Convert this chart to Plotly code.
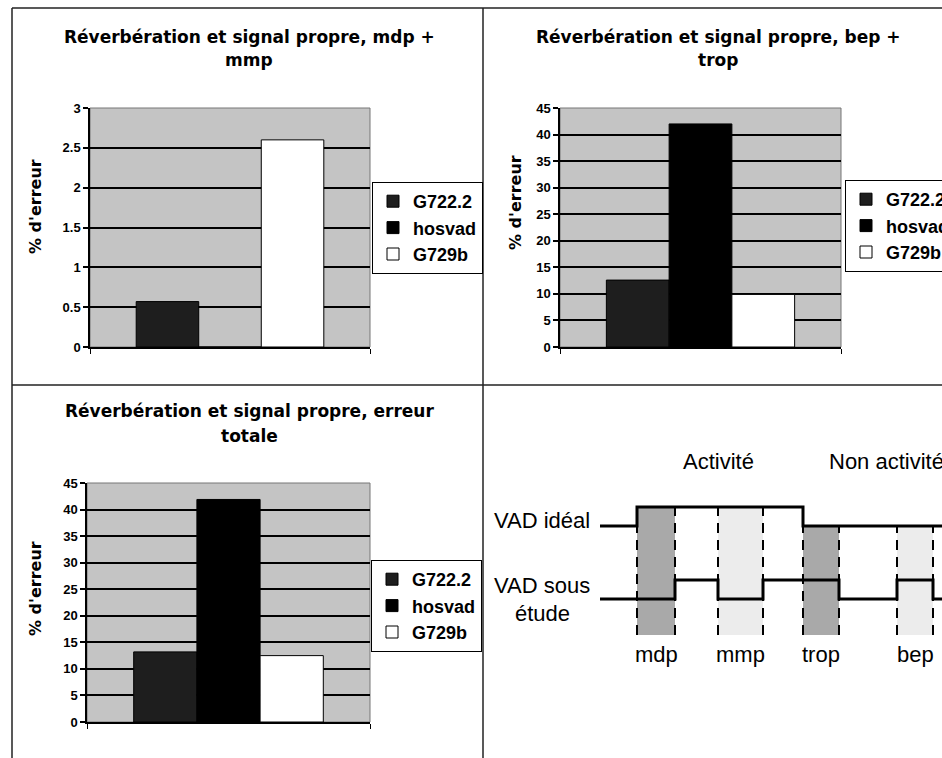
import plotly.graph_objects as go

W, H = 942, 758

# ---------------- data ----------------
series = ["G722.2", "hosvad", "G729b"]
category = ["Réverbération et signal propre"]
mdp_mmp = [0.57, 0.0, 2.6]
bep_trop = [12.6, 42.0, 9.9]
erreur_totale = [13.2, 41.9, 12.5]
panel_values = [mdp_mmp, bep_trop, erreur_totale]
panel_titles = [
    ["Réverbération et signal propre, mdp +", "mmp"],
    ["Réverbération et signal propre, bep +", "trop"],
    ["Réverbération et signal propre, erreur", "totale"],
]
y_max = [3, 45, 45]
y_step = [0.5, 5, 5]
y_title = "% d'erreur"

# VAD diagram (time in arbitrary units, states 0/1)
ideal_t = [0, 37, 203, 342]
ideal_state = [0, 1, 0, 0]
study_t = [0, 75, 118, 163, 239, 297, 333, 342]
study_state = [0, 1, 0, 1, 0, 1, 0, 0]
err_names = ["mdp", "mmp", "trop", "bep"]
err_start = [37, 118, 203, 297]
err_end = [75, 163, 239, 333]
err_dark = [True, False, True, False]

# ---------------- styling ----------------
bar_colors = ["#1e1e1e", "#000000", "#ffffff"]
plot_bg = "#c4c4c4"
TITLE_FONT = dict(family="DejaVu Sans", size=17, color="black", weight="bold")
TICK_FONT = dict(family="Liberation Sans, Arial", size=13, color="black", weight="bold")
LEG_FONT = dict(family="Liberation Sans, Arial", size=18, color="black", weight="bold")
DIAG_FONT = dict(family="Liberation Sans, Arial", size=22, color="black")


def px(x):
    return x / W


def py(y):
    return 1 - y / H


# plot areas in pixels: (left, right, top, bottom)
areas = [(90, 370, 108, 347), (560, 841, 108, 347), (87, 370, 483, 722)]
title_pos = [(249, 37, 60), (718, 37, 60), (249, 411, 436)]
ytitle_pos = [(35, 207), (515, 203), (35, 589)]
legend_pos = [(372, 182), (845, 180), (371, 560)]

fig = go.Figure()
layout = dict(
    width=W, height=H,
    margin=dict(l=0, r=0, t=0, b=0, autoexpand=False),
    paper_bgcolor="white",
    plot_bgcolor="white",
    showlegend=True,
    barmode="group",
    bargap=0.33,
    bargroupgap=0,
)
annotations = []
shapes = []

for i in range(3):
    n = "" if i == 0 else str(i + 1)
    xa, ya = "x" + n, "y" + n
    leg = "legend" + n
    vals = panel_values[i]
    for s, name in enumerate(series):
        fig.add_trace(go.Bar(
            x=category, y=[vals[s]], name=name,
            marker=dict(color=bar_colors[s], line=dict(color="black", width=1)),
            xaxis=xa, yaxis=ya, legend=leg, legendgroup=f"{i}-{s}",
        ))
    l, r, t, b = areas[i]
    layout["xaxis" + n] = dict(
        domain=[px(l), px(r)], anchor=ya, type="category",
        showticklabels=False, showline=True, linecolor="black", linewidth=1.5,
        ticks="outside", tickson="boundaries", ticklen=5, tickcolor="black",
        showgrid=False, fixedrange=True,
    )
    layout["yaxis" + n] = dict(
        domain=[py(b), py(t)], anchor=xa, range=[0, y_max[i]], dtick=y_step[i],
        showgrid=True, gridcolor="black", gridwidth=2, zeroline=False,
        showline=True, linecolor="black", linewidth=1.5,
        ticks="outside", ticklen=5, tickcolor="black", tickwidth=1.5,
        tickfont=TICK_FONT,
    )
    lx, ly = legend_pos[i]
    layout[leg] = dict(
        x=px(lx), y=py(ly), xanchor="left", yanchor="top",
        bgcolor="white", bordercolor="black", borderwidth=1,
        font=LEG_FONT, tracegroupgap=3, itemwidth=30, traceorder="normal",
    )
    cx, y1, y2 = title_pos[i]
    for txt, yy in zip(panel_titles[i], (y1, y2)):
        annotations.append(dict(
            x=px(cx), y=py(yy), xref="paper", yref="paper", text=txt,
            showarrow=False, font=TITLE_FONT, xanchor="center", yanchor="middle",
        ))
    tx, ty = ytitle_pos[i]
    annotations.append(dict(
        x=px(tx), y=py(ty), xref="paper", yref="paper", text=y_title,
        textangle=-90, showarrow=False, font=dict(TITLE_FONT, size=16),
        xanchor="center", yanchor="middle",
    ))
    # gray plot-area background with thin border (under the gridlines)
    shapes.append(dict(type="rect", xref=xa + " domain", yref=ya + " domain",
                       x0=0, x1=1, y0=0, y1=1, fillcolor=plot_bg,
                       line=dict(color="#777", width=1), layer="below"))

# ---------------- VAD diagram ----------------
IDEAL_BASE, STUDY_BASE, AMP, SHADE_BOTTOM = 232, 159, 19, 123
layout["xaxis4"] = dict(domain=[px(483), 1], anchor="y4", range=[-117, 342],
                        visible=False, fixedrange=True)
layout["yaxis4"] = dict(domain=[0, py(385)], anchor="x4", range=[0, 373],
                        visible=False, fixedrange=True)


def ideal_at(t):
    st = ideal_state[0]
    for tt, s in zip(ideal_t, ideal_state):
        if tt <= t:
            st = s
    return st


for name, a, b, dark in zip(err_names, err_start, err_end, err_dark):
    top = IDEAL_BASE + AMP * ideal_at((a + b) / 2)
    fig.add_trace(go.Scatter(
        x=[a, b, b, a, a], y=[SHADE_BOTTOM, SHADE_BOTTOM, top, top, SHADE_BOTTOM],
        fill="toself", fillcolor="#a9a9a9" if dark else "#ececec",
        line=dict(width=0), mode="lines", xaxis="x4", yaxis="y4",
        showlegend=False, hoverinfo="skip",
    ))
    for xx in (a, b):
        fig.add_trace(go.Scatter(
            x=[xx, xx], y=[SHADE_BOTTOM, top], mode="lines",
            line=dict(color="black", width=2, dash="10px,7px"),
            xaxis="x4", yaxis="y4", showlegend=False, hoverinfo="skip",
        ))
    annotations.append(dict(
        x=(a + b) / 2, y=SHADE_BOTTOM - 19, xref="x4", yref="y4", text=name,
        showarrow=False, font=DIAG_FONT, xanchor="center", yanchor="middle",
    ))

fig.add_trace(go.Scatter(
    x=ideal_t, y=[IDEAL_BASE + AMP * s for s in ideal_state], mode="lines",
    line=dict(color="black", width=3, shape="hv"),
    xaxis="x4", yaxis="y4", showlegend=False, hoverinfo="skip",
))
fig.add_trace(go.Scatter(
    x=study_t, y=[STUDY_BASE + AMP * s for s in study_state], mode="lines",
    line=dict(color="black", width=3, shape="hv"),
    xaxis="x4", yaxis="y4", showlegend=False, hoverinfo="skip",
))

for txt, x, y, anchor in [
    ("Activité", 718, 461, "center"),
    ("Non activité", 827, 461, "left"),
    ("VAD idéal", 542, 520, "center"),
    ("VAD sous", 542, 585, "center"),
    ("étude", 542, 613, "center"),
]:
    annotations.append(dict(
        x=px(x), y=py(y), xref="paper", yref="paper", text=txt,
        showarrow=False, font=DIAG_FONT, xanchor=anchor, yanchor="middle",
    ))

# frame lines
for x0, y0, x1, y1 in [(12, 8, 942, 8), (12, 8, 12, 758), (483, 8, 483, 758), (12, 385, 942, 385)]:
    shapes.append(dict(type="line", xref="paper", yref="paper",
                       x0=px(x0), y0=py(y0), x1=px(x1), y1=py(y1),
                       line=dict(color="#222", width=1.5)))

layout["annotations"] = annotations
layout["shapes"] = shapes
fig.update_layout(**layout)
fig.write_html("out.html")
